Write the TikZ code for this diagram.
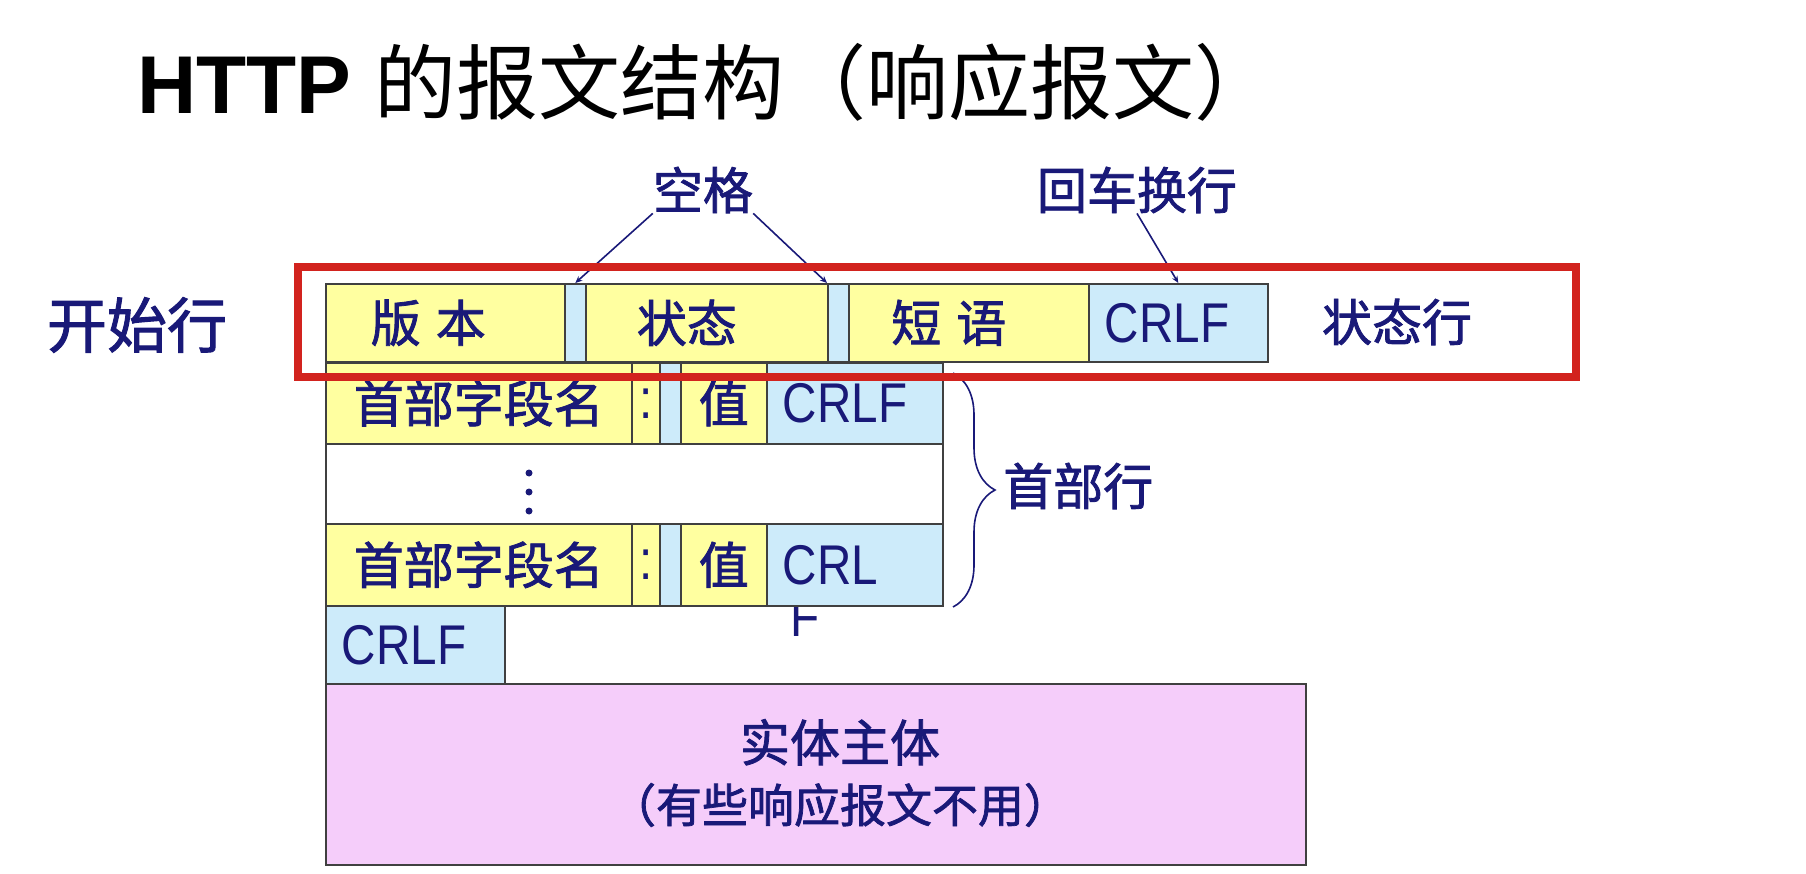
\documentclass[tikz,border=0pt]{standalone}
\usepackage{fontspec}
\setmainfont{Liberation Sans}
\newfontfamily\cjk{Noto Sans CJK SC}
\newfontfamily\cjkm[FakeBold=1.6]{Noto Sans CJK SC}
\newfontfamily\crlffont[FakeStretch=0.85]{Liberation Sans}
\usepackage{tikz}
\usetikzlibrary{arrows.meta, decorations.pathreplacing}

\definecolor{cellyel}{RGB}{255,255,160}
\definecolor{cellblu}{RGB}{205,235,250}
\definecolor{bodypink}{RGB}{245,205,250}
\definecolor{txtnavy}{RGB}{25,25,120}
\definecolor{boxred}{RGB}{210,35,30}

\begin{document}
\begin{tikzpicture}[x=1pt, y=-1pt,
  every node/.style={text=txtnavy},
  lbl/.style={inner sep=0pt, font=\cjkm\fontsize{50}{52}\selectfont},
  cell/.style={draw=black!75, line width=1.6pt, inner sep=0pt, anchor=north west,
    font=\cjkm\fontsize{50}{52}\selectfont},
  yel/.style={cell, fill=cellyel},
  blu/.style={cell, fill=cellblu},
  crlf/.style={blu, font=\crlffont\fontsize{56}{58}\selectfont, align=left,
    inner xsep=16pt, text width=#1},
  pointer/.style={draw=txtnavy, line width=1.6pt, -{Stealth[length=7pt, width=6pt]}}]
\useasboundingbox (0,0) rectangle (1806,874);

% 标题
\node[anchor=west, inner sep=0pt, text=black, font=\fontsize{82}{84}\selectfont] (title) at (137,82)
  {\textbf{HTTP} {\cjk 的报文结构（响应报文）}};

% 左侧与上方的说明文字
\node[lbl, font=\cjkm\fontsize{60}{62}\selectfont] (start) at (137,325) {开始行};
\node[lbl] (space) at (703,190) {空格};
\node[lbl] (crnl) at (1137,190) {回车换行};
\node[lbl] (statln) at (1397,322) {状态行};

% 状态行（文字略偏左）
\node[yel, minimum width=239pt, minimum height=78pt] (ver) at (325,283) {版\hspace{0.3em}本\hspace*{34pt}};
\node[blu, minimum width=21pt, minimum height=78pt] (sp1) at (564,283) {};
\node[yel, minimum width=242pt, minimum height=78pt] (stat) at (585,283) {状态\hspace*{40pt}};
\node[blu, minimum width=21pt, minimum height=78pt] (sp2) at (827,283) {};
\node[yel, minimum width=240pt, minimum height=78pt] (phr) at (848,283) {短\hspace{0.3em}语\hspace*{40pt}};
\node[crlf=147pt, minimum height=78pt] (crlf0) at (1088,283) {CRLF};

% 首部行 1
\node[yel, minimum width=306pt, minimum height=81pt] (hname1) at (325,362) {首部字段名};
\node[yel, minimum width=28pt, minimum height=81pt, font=\crlffont\fontsize{56}{58}\selectfont] (hcol1) at (631,362) {:};
\node[blu, minimum width=21pt, minimum height=81pt] (hsp1) at (659,362) {};
\node[yel, minimum width=86pt, minimum height=81pt] (hval1) at (680,362) {值};
\node[crlf=144pt, minimum height=81pt] (hcrlf1) at (766,362) {CRLF};

% 省略的首部行
\node[cell, fill=white, minimum width=617pt, minimum height=80pt] (hdots) at (325,443) {};
\fill[txtnavy] (529,473) circle (3.5pt) (529,492) circle (3.5pt) (529,511) circle (3.5pt);

% 首部行 2（被截断的 F）
\node[anchor=north west, inner sep=0pt, font=\crlffont\fontsize{56}{58}\selectfont] (hcut) at (790,598) {F};
\node[yel, minimum width=306pt, minimum height=82pt] (hname2) at (325,523) {首部字段名};
\node[yel, minimum width=28pt, minimum height=82pt, font=\crlffont\fontsize{56}{58}\selectfont] (hcol2) at (631,523) {:};
\node[blu, minimum width=21pt, minimum height=82pt] (hsp2) at (659,523) {};
\node[yel, minimum width=86pt, minimum height=82pt] (hval2) at (680,523) {值};
\node[crlf=144pt, minimum height=82pt] (hcrlf2) at (766,523) {CRL};

% 空行
\node[crlf=147pt, minimum height=78pt] (blank) at (325,605) {CRLF};

% 实体主体
\node[cell, fill=bodypink, minimum width=980pt, minimum height=181pt] (body) at (325,683) {};
\node[align=center, inner sep=0pt, font=\cjkm\fontsize{50}{61}\selectfont] (bodytxt) at (840,773)
  {实体主体\\{\fontsize{46}{61}\selectfont （有些响应报文不用）}};

% 首部行的大括号
\draw[txtnavy, line width=1.6pt, decorate, decoration={brace, amplitude=42pt}] (953,373) -- (953,607);
\node[lbl, anchor=west] (hdrln) at (1003,486) {首部行};

% 指示线
\draw[pointer] (space.south west) -- (sp1.north);
\draw[pointer] (space.south east) -- (sp2.north west);
\draw[pointer] (crnl.south) -- (crlf0.north);

% 红框
\draw[boxred, line width=8pt] (298,267) rectangle (1576,377);
\end{tikzpicture}
\end{document}
